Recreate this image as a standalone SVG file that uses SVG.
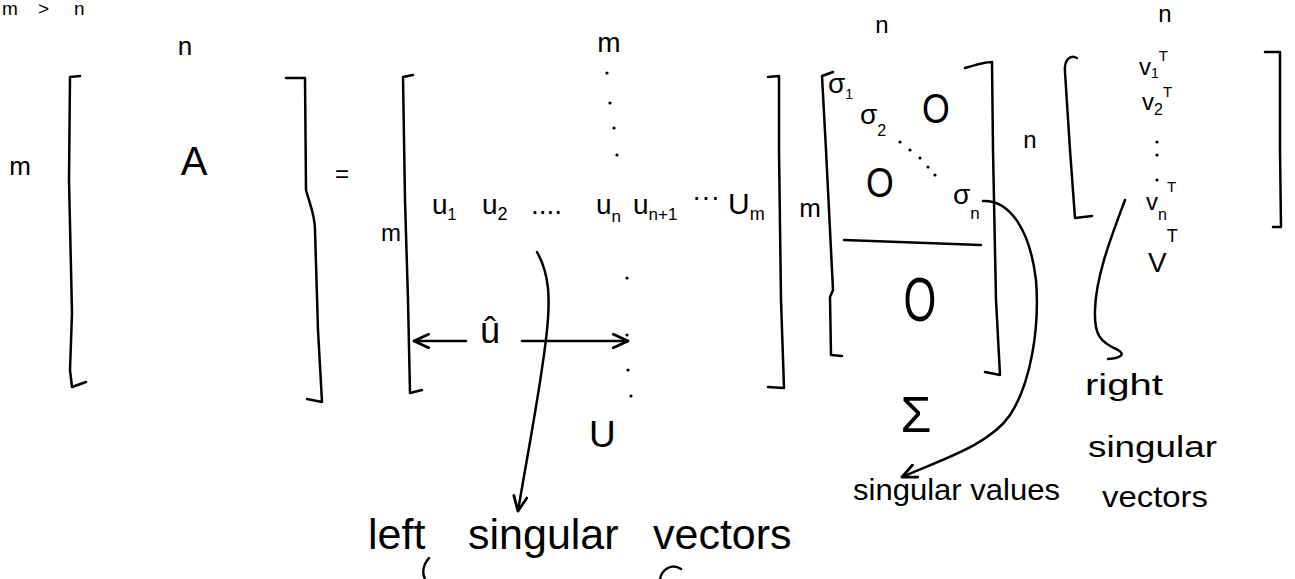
<svg xmlns="http://www.w3.org/2000/svg" width="1295" height="579" viewBox="0 0 1295 579">
<defs>
<style>
.s{fill:none;stroke:#000;stroke-width:2.5;stroke-linecap:round;stroke-linejoin:round}
.t{font-family:"Liberation Sans",Arial,sans-serif;fill:#000}
.m{text-anchor:middle}
.d{fill:#000}
</style>
<marker id="ah" markerWidth="18" markerHeight="16" refX="14" refY="7" orient="auto" markerUnits="userSpaceOnUse" viewBox="0 0 16 14"><path d="M1,1 L14,7 L1,13" fill="none" stroke="#000" stroke-width="2.5" stroke-linecap="round" stroke-linejoin="round"/></marker>
</defs>
<rect width="1295" height="579" fill="#fff"/>

<g id="heading">
<text class="t" y="15" font-size="19"><tspan x="2">m</tspan><tspan x="38">&gt;</tspan><tspan x="74">n</tspan></text>
</g>

<g id="matrix-A">
<path class="s" d="M80,76 L70,77 L69,180 L72,313 L70,370 L72,387 L86,382"/>
<path class="s" d="M286,78 L305,78 L306,190 C310,205 315,215 315,230 L318,330 L322,402 L307,399"/>
<text class="t m" x="185" y="55" font-size="26">n</text>
<text class="t m" x="194" y="175" font-size="40">A</text>
<text class="t m" x="20" y="175" font-size="26">m</text>
<text class="t m" x="342" y="182" font-size="24">=</text>
</g>

<g id="matrix-U">
<path class="s" d="M413,75 L403,77 L405,200 L408,300 L410,393 L422,390"/>
<path class="s" d="M768,77 L779,76 L779,150 L781,300 L784,388 L768,387"/>
<text class="t m" x="609" y="52" font-size="28">m</text>
<text class="t m" x="391" y="241" font-size="24">m</text>
<g class="d">
<circle cx="607" cy="73" r="1.6"/><circle cx="610" cy="103" r="1.6"/><circle cx="614" cy="128" r="1.6"/><circle cx="617" cy="155" r="1.6"/>
<circle cx="627" cy="278" r="1.6"/><circle cx="627" cy="335" r="1.6"/><circle cx="628" cy="370" r="1.6"/><circle cx="631" cy="396" r="1.6"/>
</g>
<text class="t" y="214" font-size="28"><tspan x="432">u</tspan><tspan font-size="16" dy="6">1</tspan><tspan x="482" dy="-6">u</tspan><tspan font-size="18" dy="6">2</tspan><tspan x="531" dy="-6">....</tspan><tspan x="596">u</tspan><tspan font-size="17" dy="8">n</tspan><tspan x="633" dy="-8">u</tspan><tspan font-size="17" dy="6">n+1</tspan><tspan x="692" dy="-14">···</tspan><tspan x="728" dy="8" font-size="30">U</tspan><tspan font-size="18" dy="6">m</tspan></text>
<text class="t" x="480" y="343" font-size="36">û</text>
<text class="t" x="589" y="447" font-size="37">U</text>
</g>

<g id="matrix-Sigma">
<path class="s" d="M833,72 L822,76 L826,150 L833,290 L830,297 L831,355 L842,356"/>
<path class="s" d="M965,68 C975,65 985,62 992,62 L993,150 L996,300 L1000,375 L985,372"/>
<path class="s" d="M844,240 L981,245"/>
<text class="t m" x="882" y="33" font-size="24">n</text>
<text class="t m" x="810" y="217" font-size="26">m</text>
<text class="t m" x="1030" y="148" font-size="24">n</text>
<text class="t" x="828" y="93" font-size="28">σ<tspan font-size="14" dy="6">1</tspan></text>
<text class="t" x="860" y="124" font-size="28">σ<tspan font-size="16" dy="12">2</tspan></text>
<text class="t" x="953" y="204" font-size="28">σ<tspan font-size="17" dy="15">n</tspan></text>
<g class="d">
<circle cx="900" cy="142" r="1.6"/><circle cx="910" cy="150" r="1.6"/><circle cx="920" cy="158" r="1.6"/><circle cx="928" cy="167" r="1.6"/><circle cx="935" cy="175" r="1.6"/>
</g>
<text class="t m" transform="translate(936,123) scale(0.85,1)" font-size="42">O</text>
<text class="t m" transform="translate(880,197) scale(0.85,1)" font-size="42">O</text>
<text class="t m" transform="translate(920,321) scale(0.68,1)" font-size="62">O</text>
<text class="t m" x="916" y="432" font-size="50">Σ</text>
</g>

<g id="matrix-VT">
<path class="s" d="M1077,58 C1070,54 1064,60 1065,72 L1070,150 L1075,218 L1092,216"/>
<path class="s" d="M1265,52 L1280,52 L1280,150 L1281,227 L1273,227"/>
<text class="t m" x="1165" y="22" font-size="24">n</text>
<text class="t" x="1139" y="75" font-size="24">v<tspan font-size="14" dy="3">1</tspan><tspan font-size="15" dy="-17">T</tspan></text>
<text class="t" x="1142" y="110" font-size="24">v<tspan font-size="16" dy="5">2</tspan><tspan font-size="15" dy="-18">T</tspan></text>
<g class="d"><circle cx="1157" cy="142" r="1.6"/><circle cx="1157" cy="155" r="1.6"/><circle cx="1157" cy="180" r="1.6"/></g>
<text class="t" x="1146" y="210" font-size="24">v<tspan font-size="16" dy="10">n</tspan><tspan font-size="15" dy="-28">T</tspan></text>
<text class="t" x="1148" y="272" font-size="28">V<tspan font-size="18" dy="-30">T</tspan></text>
</g>

<g id="labels">
<text class="t" y="549" font-size="43"><tspan x="368">left</tspan><tspan x="468">singular</tspan><tspan x="653">vectors</tspan></text>
<text class="t" x="853" y="500" font-size="30" textLength="207" lengthAdjust="spacingAndGlyphs">singular values</text>
<text class="t" x="1085" y="395" font-size="30" textLength="78" lengthAdjust="spacingAndGlyphs">right</text>
<text class="t" x="1088" y="457" font-size="30" textLength="129" lengthAdjust="spacingAndGlyphs">singular</text>
<text class="t" x="1102" y="507" font-size="30" textLength="106" lengthAdjust="spacingAndGlyphs">vectors</text>
</g>

<g id="connectors">
<path class="s" d="M466,341 L414,341" marker-end="url(#ah)"/>
<path class="s" d="M522,341 L628,341" marker-end="url(#ah)"/>
<path class="s" d="M537,252 C550,275 550,300 547,330 C542,380 530,440 518,511" marker-end="url(#ah)"/>
<path class="s" d="M983,201 C1010,200 1030,230 1036,280 C1040,330 1030,385 1010,415 C990,445 940,460 902,477" marker-end="url(#ah)"/>
<path class="s" d="M1125,200 C1112,235 1096,275 1095,310 C1094,335 1100,342 1118,350 C1125,354 1122,358 1108,359"/>
</g>

<g id="cut-strokes">
<path class="s" d="M429,558 C423,565 422,573 425,579"/>
<path class="s" d="M660,579 C662,569 672,563 681,569"/>
</g>
</svg>
